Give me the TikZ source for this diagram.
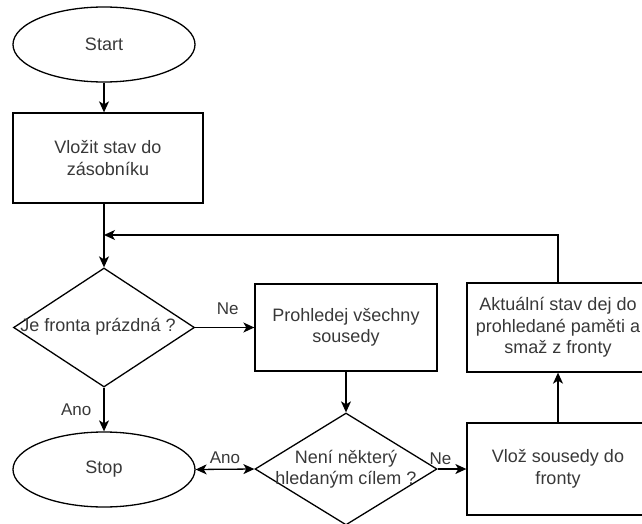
\documentclass[tikz,border=0pt]{standalone}
\usepackage{fontspec}
\setmainfont{Liberation Sans}
\usetikzlibrary{shapes.geometric,arrows.meta}

\begin{document}
\begin{tikzpicture}[x=1pt,y=-1pt,
  every node/.style={font=\fontsize{18}{21.5}\selectfont, text=black!78, inner sep=0pt},
  box/.style={draw=black, line width=1.3pt, rectangle, minimum width=182pt, align=center},
  term/.style={draw=black, line width=1.3pt, ellipse, minimum width=182pt, minimum height=75pt},
  flow/.style={line width=1.3pt, -{Stealth[length=11pt,width=10pt,inset=3pt]}},
  lbl/.style={font=\fontsize{17}{20}\selectfont}
]
\useasboundingbox (0,0) rectangle (642,524);

% nodes
\node[term] (start) at (104,44.5) {Start};
\node[box, minimum width=190pt, minimum height=90pt] (push) at (108,158) {Vložit stav do\\zásobníku};
\node[draw=black, line width=1.3pt, diamond, minimum width=181pt, minimum height=119pt,
      shape aspect=1.52] (d1) at (104,327.5) {};
\node[align=center] (d1text) at (98,327) {Je fronta prázdná ?};
\node[term] (stop) at (104,469.5) {Stop};
\node[box, minimum height=87pt] (search) at (346,327.5) {Prohledej všechny\\sousedy};
\node[draw=black, line width=1.3pt, diamond, minimum width=182pt, minimum height=112pt,
      shape aspect=1.62] (d2) at (346,469) {};
\node[align=center] (d2text) at (346,469) {Není některý\\hledaným cílem ?};
\node[box, minimum height=92pt] (insert) at (558,469) {Vlož sousedy do\\fronty};
\node[box, minimum height=89pt] (current) at (558,327.5) {Aktuální stav dej do\\prohledané paměti a\\smaž z fronty};

\coordinate (loop) at (104,235);
\coordinate (corner) at (558,235);

% connectors
\draw[flow] (start.south) -- (start.south |- push.north);
\draw[flow] (start.south |- push.south) -- (d1.north);
\draw[flow] (d1.east) -- (search.west) node[lbl, pos=0.55, above=12pt] {Ne};
\draw[flow] (d1.south) -- (stop.north) node[lbl, midway, left=12pt] {Ano};
\draw[flow] (search.south) -- (d2.north);
\draw[flow, {Stealth[length=11pt,width=10pt,inset=3pt]}-{Stealth[length=11pt,width=10pt,inset=3pt]}]
  (stop.east) -- (d2.west) node[lbl, midway, above=5pt] {Ano};
\draw[flow] (d2.east) -- (insert.west) node[lbl, pos=0.1, above=4pt] {Ne};
\draw[flow] (insert.north) -- (current.south);
\draw[flow] (current.north) -- (corner) -- (loop);
\end{tikzpicture}
\end{document}
